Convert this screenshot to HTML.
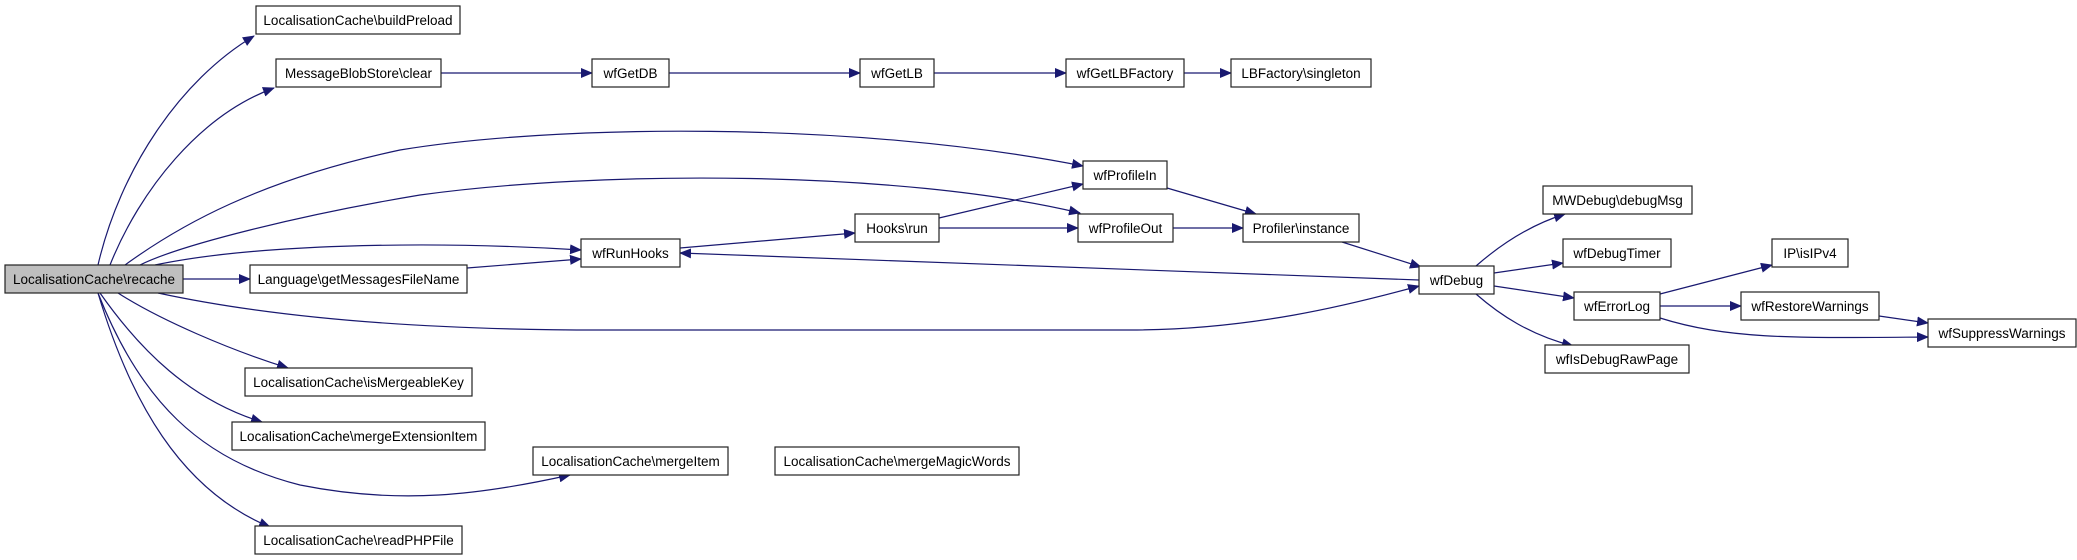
<!DOCTYPE html>
<html><head><meta charset="utf-8"><style>
html,body{margin:0;padding:0;background:#fff;}
svg{display:block;}
text{font-family:"Liberation Sans",Helvetica,sans-serif;font-size:13.5px;fill:#000;}
</style></head><body>
<svg width="2077" height="560" viewBox="0 0 2077 560" xmlns="http://www.w3.org/2000/svg">
<defs>
<marker id="a" markerWidth="12" markerHeight="10" refX="11" refY="5" orient="auto" markerUnits="userSpaceOnUse">
<path d="M0,0 L12,5 L0,10 z" fill="#191970"/>
</marker>
</defs>
<g fill="none" stroke="#191970" stroke-width="1.2" marker-end="url(#a)">
<path d="M98 265 C120 170,180 80,254 36"/>
<path d="M110 265 C140 190,200 115,274 88"/>
<path d="M125 265 C180 225,260 180,400 150 C550 125,850 120,1083 166"/>
<path d="M140 265 C180 245,300 215,420 195 C600 170,900 170,1080 213"/>
<path d="M155 265 C250 245,420 240,581 250"/>
<path d="M183 279 L250 279"/>
<path d="M158 293 C260 315,400 330,600 330 L1130 330 C1250 330,1350 305,1419 286"/>
<path d="M118 293 C160 320,230 350,288 368"/>
<path d="M100 293 C140 350,190 400,262 422"/>
<path d="M98 293 C140 400,200 460,300 485 C400 505,480 495,570 475"/>
<path d="M98 293 C130 400,180 490,270 527"/>
<path d="M441 73 L592 73"/>
<path d="M669 73 L860 73"/>
<path d="M934 73 L1066 73"/>
<path d="M1184 73 L1231 73"/>
<path d="M467 268 L581 259"/>
<path d="M680 248 L855 233"/>
<path d="M939 218 L1083 184"/>
<path d="M939 228 L1078 228"/>
<path d="M1167 188 L1256 214"/>
<path d="M1173 228 L1243 228"/>
<path d="M1342 242 L1421 267"/>
<path d="M1419 280 L680 253"/>
<path d="M1476 266 C1500 245,1530 225,1565 214"/>
<path d="M1494 273 L1563 263"/>
<path d="M1494 286 L1574 298"/>
<path d="M1476 294 C1500 315,1530 335,1573 346"/>
<path d="M1660 294 L1772 265"/>
<path d="M1660 306 L1741 306"/>
<path d="M1660 318 C1730 340,1800 338,1928 337"/>
<path d="M1879 316 L1928 323"/>
</g>
<g stroke="#222" stroke-width="1.2" fill="#fff">
<rect x="5" y="265" width="178" height="28" fill="#bfbfbf"/>
<rect x="256" y="6" width="204" height="28"/>
<rect x="276" y="59" width="165" height="28"/>
<rect x="592" y="59" width="77" height="28"/>
<rect x="860" y="59" width="74" height="28"/>
<rect x="1066" y="59" width="118" height="28"/>
<rect x="1231" y="59" width="140" height="28"/>
<rect x="1083" y="161" width="84" height="28"/>
<rect x="581" y="239" width="99" height="28"/>
<rect x="250" y="265" width="217" height="28"/>
<rect x="855" y="214" width="84" height="28"/>
<rect x="1078" y="214" width="95" height="28"/>
<rect x="1243" y="214" width="116" height="28"/>
<rect x="245" y="368" width="227" height="28"/>
<rect x="232" y="422" width="253" height="28"/>
<rect x="533" y="447" width="195" height="28"/>
<rect x="775" y="447" width="244" height="28"/>
<rect x="255" y="526" width="207" height="28"/>
<rect x="1419" y="266" width="75" height="28"/>
<rect x="1543" y="186" width="149" height="28"/>
<rect x="1563" y="239" width="108" height="28"/>
<rect x="1772" y="239" width="76" height="28"/>
<rect x="1574" y="292" width="86" height="28"/>
<rect x="1741" y="292" width="138" height="28"/>
<rect x="1928" y="319" width="148" height="28"/>
<rect x="1545" y="345" width="144" height="28"/>
</g>
<g text-anchor="middle">
<text x="94" y="284">LocalisationCache\recache</text>
<text x="358" y="25">LocalisationCache\buildPreload</text>
<text x="358.5" y="78">MessageBlobStore\clear</text>
<text x="630.5" y="78">wfGetDB</text>
<text x="897" y="78">wfGetLB</text>
<text x="1125" y="78">wfGetLBFactory</text>
<text x="1301" y="78">LBFactory\singleton</text>
<text x="1125" y="180">wfProfileIn</text>
<text x="630.5" y="258">wfRunHooks</text>
<text x="358.5" y="284">Language\getMessagesFileName</text>
<text x="897" y="233">Hooks\run</text>
<text x="1125.5" y="233">wfProfileOut</text>
<text x="1301" y="233">Profiler\instance</text>
<text x="358.5" y="387">LocalisationCache\isMergeableKey</text>
<text x="358.5" y="441">LocalisationCache\mergeExtensionItem</text>
<text x="630.5" y="466">LocalisationCache\mergeItem</text>
<text x="897" y="466">LocalisationCache\mergeMagicWords</text>
<text x="358.5" y="545">LocalisationCache\readPHPFile</text>
<text x="1456.5" y="285">wfDebug</text>
<text x="1617.5" y="205">MWDebug\debugMsg</text>
<text x="1617" y="258">wfDebugTimer</text>
<text x="1810" y="258">IP\isIPv4</text>
<text x="1617" y="311">wfErrorLog</text>
<text x="1810" y="311">wfRestoreWarnings</text>
<text x="2002" y="338">wfSuppressWarnings</text>
<text x="1617" y="364">wfIsDebugRawPage</text>
</g>
</svg>
</body></html>
